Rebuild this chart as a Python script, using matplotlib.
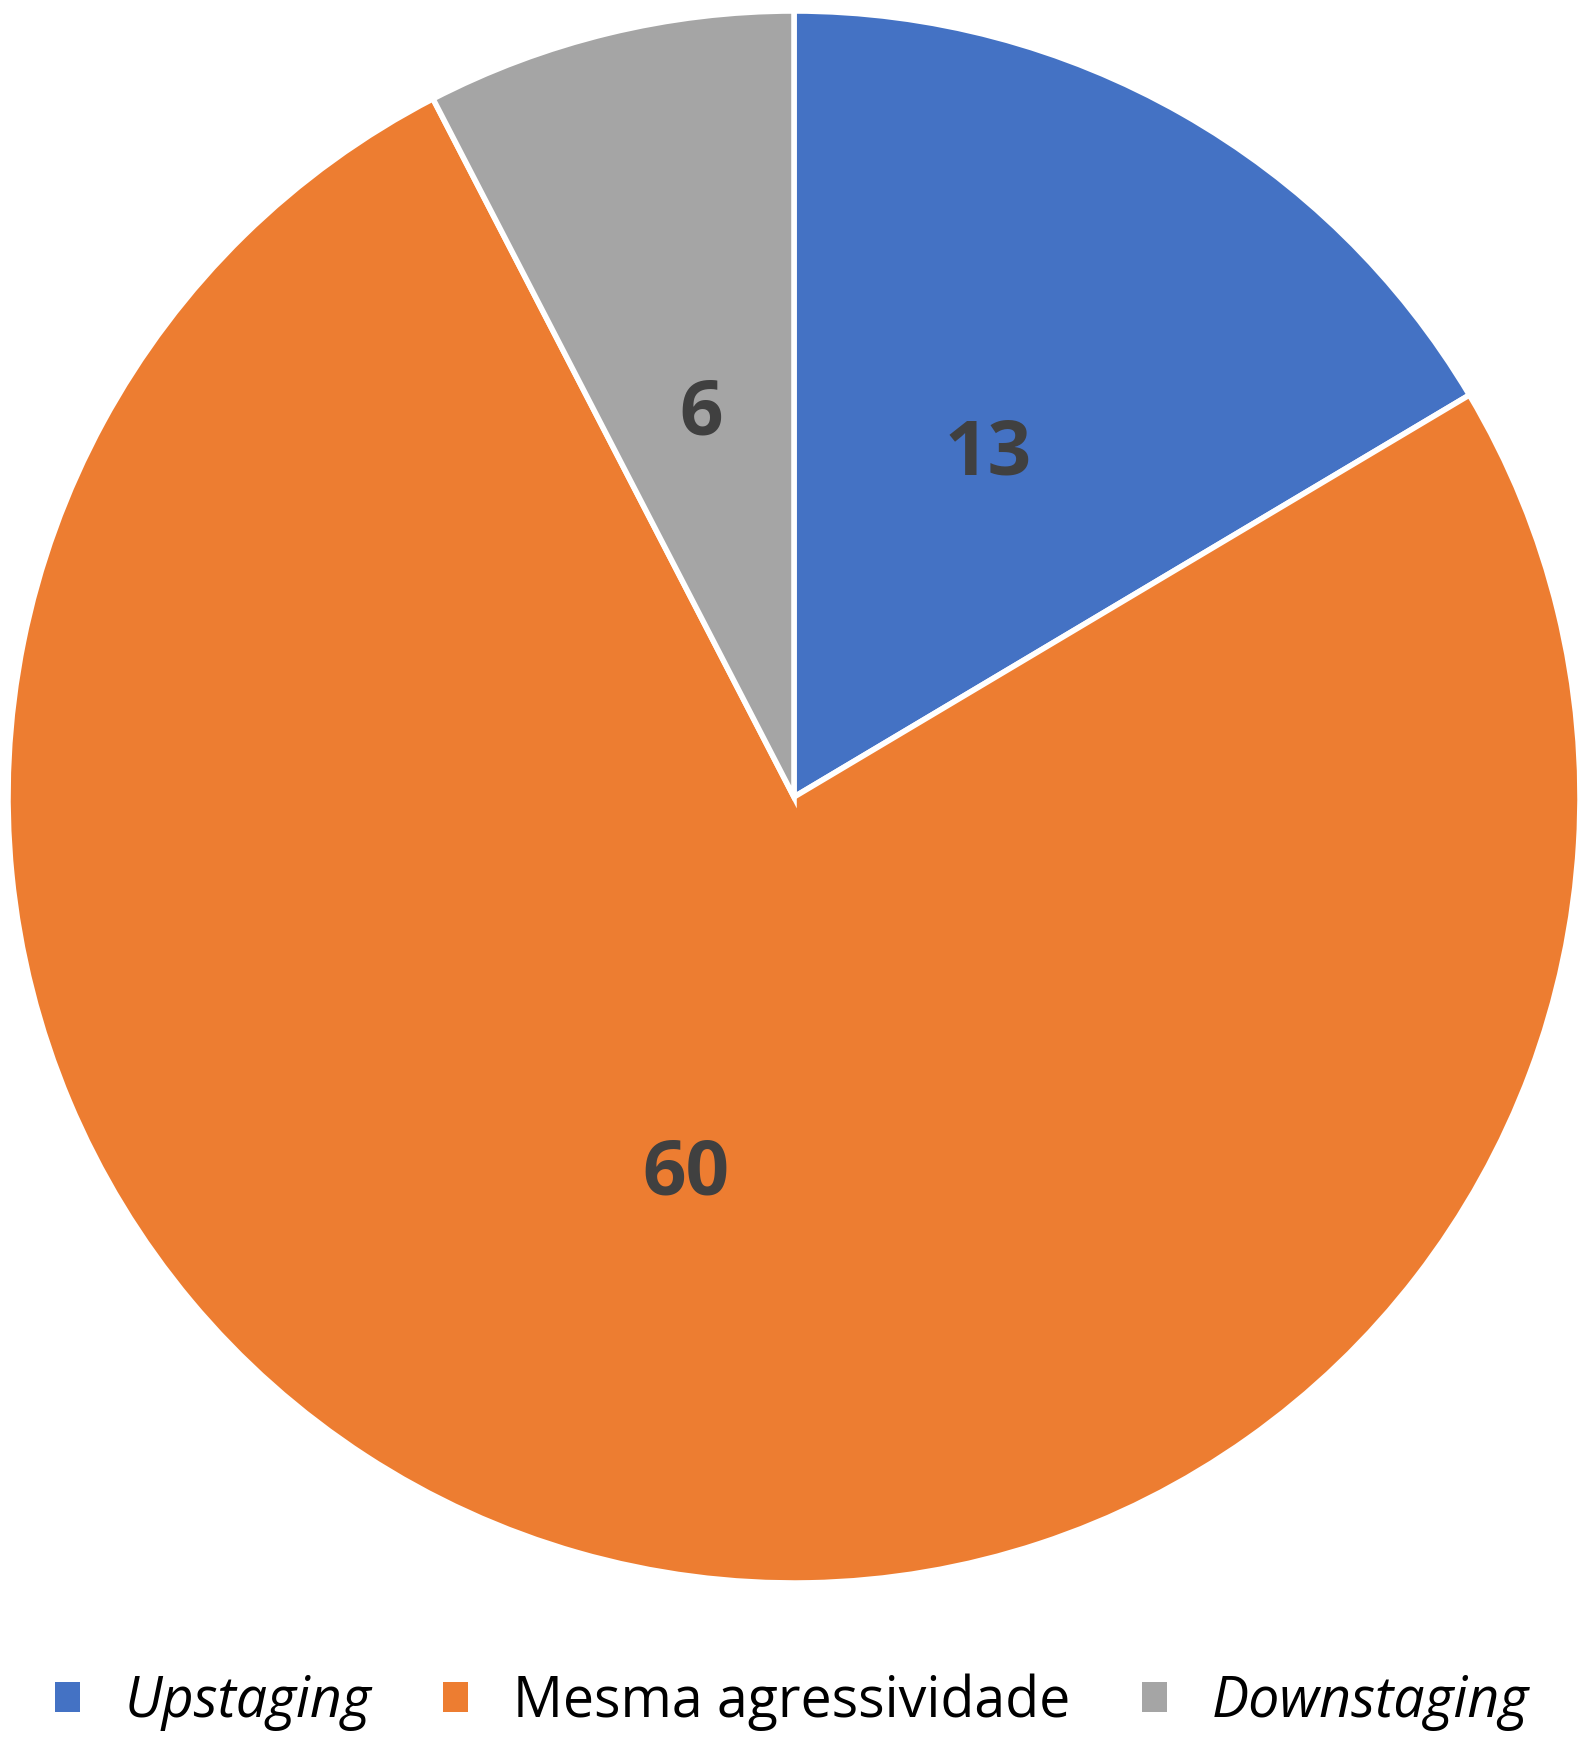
import matplotlib
matplotlib.use("Agg")
import matplotlib.pyplot as plt
from matplotlib.patches import Patch

# Data
categories = ["Upstaging", "Mesma agressividade", "Downstaging"]
counts = [13, 60, 6]
colors = ["#4472C4", "#ED7D31", "#A5A5A5"]
italic_flags = [True, False, True]

W, H, DPI = 1591, 1741, 100
fig = plt.figure(figsize=(W / DPI, H / DPI), dpi=DPI)
fig.patch.set_facecolor("white")

# Pie axes: centre and radius in pixels
cx, cy, r = 794, 797, 786
ax = fig.add_axes([(cx - r) / W, (H - cy - r) / H, 2 * r / W, 2 * r / H])
ax.set_aspect("equal")
ax.axis("off")

wedges, texts, autotexts = ax.pie(
    counts,
    colors=colors,
    startangle=90,
    counterclock=False,
    radius=1,
    autopct=lambda p: f"{round(p * sum(counts) / 100):d}",
    pctdistance=0.5,
    wedgeprops=dict(edgecolor="white", linewidth=4),
    textprops=dict(fontsize=55, fontweight="bold", color="#404040",
                   family=["Open Sans", "DejaVu Sans"]),
)
ax.set_xlim(-1, 1)
ax.set_ylim(-1, 1)

# Legend along the bottom
handles = [Patch(facecolor=c, edgecolor="none") for c in colors]
leg = fig.legend(
    handles, categories,
    loc="center", bbox_to_anchor=(0.4977, 1 - 1702 / H),
    ncol=3, frameon=False,
    prop=dict(family=["Open Sans", "DejaVu Sans"], size=40),
    handlelength=0.45, handleheight=0.45,
    handletextpad=0.8, columnspacing=1.3,
)
for txt, it in zip(leg.get_texts(), italic_flags):
    txt.set_color("black")
    if it:
        txt.set_fontstyle("italic")

fig.savefig("out.png", dpi=DPI, facecolor="white")
